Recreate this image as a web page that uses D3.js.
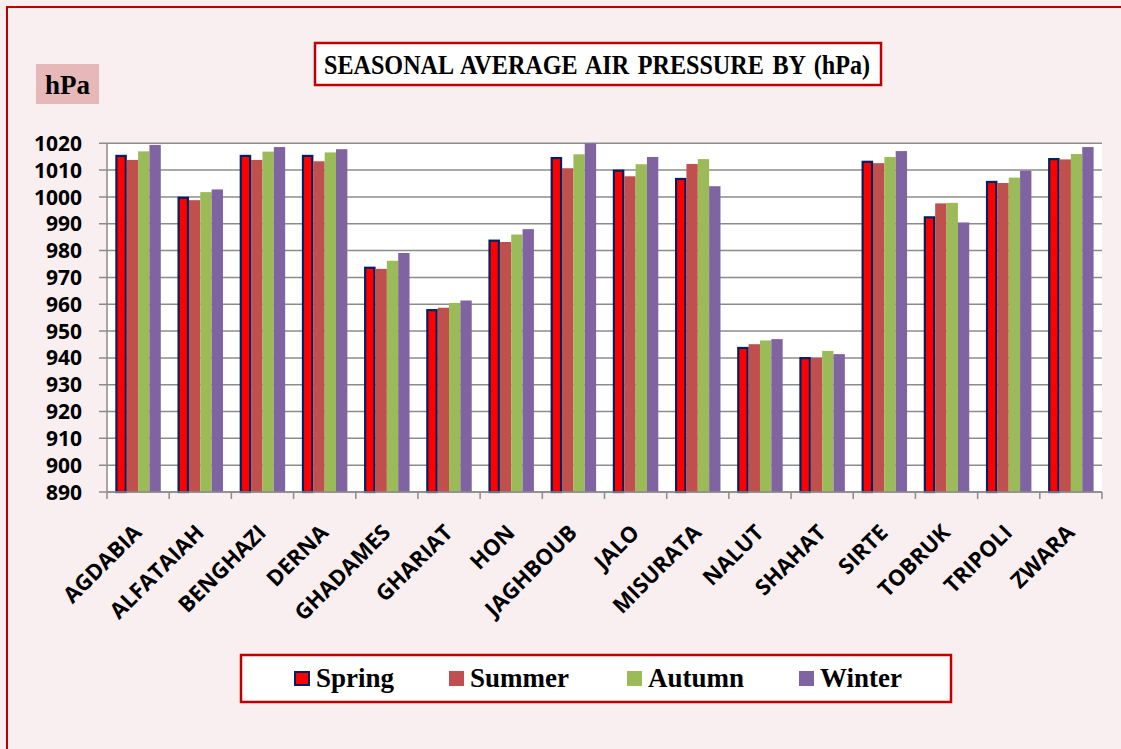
<!DOCTYPE html>
<html lang="en">
<head>
    <meta charset="UTF-8">
    <title>Seasonal Average Air Pressure</title>
    <script src="https://d3js.org/d3.v7.min.js"></script>
    <style>
        body { margin: 0; background: #f9eff0; }
        svg { display: block; }
    </style>
</head>
<body>
    <svg id="chart" width="1121" height="749"></svg>

    <script>
        // Stations and seasonal values (hPa)
        const stations = ['AGDABIA', 'ALFATAIAH', 'BENGHAZI', 'DERNA', 'GHADAMES', 'GHARIAT', 'HON', 'JAGHBOUB',
                          'JALO', 'MISURATA', 'NALUT', 'SHAHAT', 'SIRTE', 'TOBRUK', 'TRIPOLI', 'ZWARA'];
        const seasons = ['Spring', 'Summer', 'Autumn', 'Winter'];

        const spring = [1015.3, 999.7, 1015.3, 1015.3, 973.6, 957.8, 983.7, 1014.5, 1009.8, 1006.7, 943.7, 939.9, 1013.1, 992.4, 1005.6, 1014.1];
        const summer = [1013.8, 998.8, 1013.8, 1013.3, 973.2, 958.7, 983.2, 1010.7, 1007.7, 1012.3, 945.1, 940.0, 1012.6, 997.6, 1005.2, 1014.0];
        const autumn = [1017.0, 1001.8, 1016.9, 1016.6, 976.2, 960.5, 986.0, 1015.9, 1012.2, 1014.1, 946.5, 942.6, 1014.9, 997.8, 1007.2, 1016.0];
        const winter = [1019.4, 1002.8, 1018.6, 1017.8, 979.1, 961.4, 988.0, 1020.0, 1014.9, 1004.0, 947.0, 941.4, 1017.1, 990.5, 1009.8, 1018.6];

        const yTicks = [890, 900, 910, 920, 930, 940, 950, 960, 970, 980, 990, 1000, 1010, 1020];

        const seriesValues = { Spring: spring, Summer: summer, Autumn: autumn, Winter: winter };
        const colors = { Spring: '#ff0000', Summer: '#c0504d', Autumn: '#9bbb59', Winter: '#8064a2' };

        const svg = d3.select('#chart');

        // Outer frame
        svg.append('rect')
            .attr('x', 7).attr('y', 7)
            .attr('width', 1130).attr('height', 760)
            .attr('fill', '#f9eff0')
            .attr('stroke', '#c00000')
            .attr('stroke-width', 2);

        // Plot area
        const plot = { left: 107, right: 1102, top: 143.3, bottom: 492 };

        const x0 = d3.scaleBand()
            .domain(stations)
            .range([plot.left, plot.right])
            .paddingInner(0.27)
            .paddingOuter(0.135);

        const x1 = d3.scaleBand()
            .domain(seasons)
            .range([0, x0.bandwidth()]);

        const y = d3.scaleLinear()
            .domain([890, 1020])
            .range([plot.bottom, plot.top]);

        svg.append('rect')
            .attr('x', plot.left).attr('y', plot.top)
            .attr('width', plot.right - plot.left)
            .attr('height', plot.bottom - plot.top)
            .attr('fill', '#ffffff');

        // Gridlines
        svg.append('g')
            .selectAll('line')
            .data(yTicks)
            .enter().append('line')
            .attr('x1', plot.left - 8)
            .attr('x2', plot.right)
            .attr('y1', d => y(d))
            .attr('y2', d => y(d))
            .attr('stroke', '#8c8c8c')
            .attr('stroke-width', 1.5);

        // Y axis line
        svg.append('line')
            .attr('x1', plot.left).attr('x2', plot.left)
            .attr('y1', plot.top).attr('y2', plot.bottom)
            .attr('stroke', '#8c8c8c')
            .attr('stroke-width', 1.5);

        // Y tick labels
        svg.append('g')
            .selectAll('text')
            .data(yTicks)
            .enter().append('text')
            .attr('x', 82)
            .attr('y', d => y(d))
            .attr('dy', '0.36em')
            .attr('text-anchor', 'end')
            .attr('font-family', 'Open Sans, sans-serif')
            .attr('font-weight', 700)
            .attr('font-size', '21px')
            .attr('fill', '#000')
            .text(d => d);

        // Bars
        const groups = svg.append('g')
            .selectAll('g')
            .data(stations)
            .enter().append('g')
            .attr('transform', d => `translate(${x0(d)},0)`);

        groups.selectAll('rect')
            .data((d, i) => seasons.map(s => ({ season: s, value: seriesValues[s][i] })))
            .enter().append('rect')
            .attr('x', d => d.season === 'Spring' ? x1(d.season) + 1 : x1(d.season))
            .attr('y', d => y(d.value))
            .attr('width', d => d.season === 'Spring' ? x1.bandwidth() - 2 : x1.bandwidth())
            .attr('height', d => y(890) - y(d.value))
            .attr('fill', d => colors[d.season])
            .attr('stroke', d => d.season === 'Spring' ? '#002060' : 'none')
            .attr('stroke-width', 2.2);

        // X axis line + ticks
        svg.append('line')
            .attr('x1', plot.left).attr('x2', plot.right)
            .attr('y1', plot.bottom).attr('y2', plot.bottom)
            .attr('stroke', '#8c8c8c')
            .attr('stroke-width', 1.5);

        const step = x0.step();
        svg.append('g')
            .selectAll('line')
            .data(d3.range(stations.length + 1))
            .enter().append('line')
            .attr('x1', i => plot.left + i * step)
            .attr('x2', i => plot.left + i * step)
            .attr('y1', plot.bottom)
            .attr('y2', plot.bottom + 7)
            .attr('stroke', '#8c8c8c')
            .attr('stroke-width', 1.5);

        // X labels, rotated
        svg.append('g')
            .selectAll('text')
            .data(stations)
            .enter().append('text')
            .attr('transform', d => {
                const cx = x0(d) + x0.bandwidth() / 2 + 5;
                return `translate(${cx},534) rotate(-45)`;
            })
            .attr('text-anchor', 'end')
            .attr('font-family', 'Open Sans, sans-serif')
            .attr('font-weight', 700)
            .attr('font-size', '22px')
            .attr('fill', '#000')
            .text(d => d);

        // Title box
        svg.append('rect')
            .attr('x', 315).attr('y', 43)
            .attr('width', 566).attr('height', 42)
            .attr('fill', '#ffffff')
            .attr('stroke', '#c00000')
            .attr('stroke-width', 2.5);

        svg.append('text')
            .attr('x', 324)
            .attr('y', 74)
            .attr('font-family', 'Liberation Serif, serif')
            .attr('font-weight', 700)
            .attr('font-size', '28px')
            .attr('textLength', 546)
            .attr('lengthAdjust', 'spacingAndGlyphs')
            .attr('word-spacing', '3px')
            .attr('fill', '#000')
            .text('SEASONAL AVERAGE AIR PRESSURE BY (hPa)');

        // hPa unit label
        svg.append('rect')
            .attr('x', 36).attr('y', 64)
            .attr('width', 63).attr('height', 40)
            .attr('fill', '#e6b8b7');

        svg.append('text')
            .attr('x', 67.5)
            .attr('y', 94)
            .attr('text-anchor', 'middle')
            .attr('font-family', 'Liberation Serif, serif')
            .attr('font-weight', 700)
            .attr('font-size', '27px')
            .attr('fill', '#000')
            .text('hPa');

        // Legend
        svg.append('rect')
            .attr('x', 241).attr('y', 655)
            .attr('width', 710).attr('height', 47)
            .attr('fill', '#ffffff')
            .attr('stroke', '#c00000')
            .attr('stroke-width', 2.5);

        const legendX = [294, 449, 627, 799];
        const legend = svg.append('g')
            .selectAll('g')
            .data(seasons)
            .enter().append('g')
            .attr('transform', (d, i) => `translate(${legendX[i]},671)`);

        legend.append('rect')
            .attr('x', d => d === 'Spring' ? 1 : 0)
            .attr('y', d => d === 'Spring' ? 1 : 0)
            .attr('width', d => d === 'Spring' ? 14 : 15)
            .attr('height', d => d === 'Spring' ? 13 : 15)
            .attr('fill', d => colors[d])
            .attr('stroke', d => d === 'Spring' ? '#002060' : 'none')
            .attr('stroke-width', 2);

        legend.append('text')
            .attr('x', d => d === 'Spring' ? 22 : 21)
            .attr('y', 16)
            .attr('font-family', 'Liberation Serif, serif')
            .attr('font-weight', 700)
            .attr('font-size', '27px')
            .attr('fill', '#000')
            .text(d => d);
    </script>
</body>
</html>
